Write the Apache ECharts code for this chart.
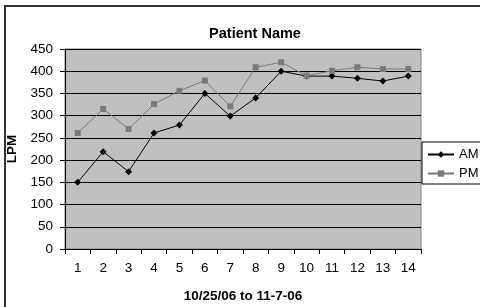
<!DOCTYPE html>
<html>
<head>
<meta charset="utf-8">
<script src="https://cdn.jsdelivr.net/npm/echarts@6/dist/echarts.min.js"></script>
<style>
  html, body { margin: 0; padding: 0; background: #fff; }
  #chart { width: 480px; height: 307px; }
</style>
</head>
<body>
<div id="chart"></div>
<script>
(function () {
    var days = ['1', '2', '3', '4', '5', '6', '7', '8', '9', '10', '11', '12', '13', '14'];
    var am = [150, 219, 174, 261, 279, 350, 299, 340, 400, 389, 389, 384, 378, 389];
    var pm = [261, 315, 270, 326, 356, 379, 321, 409, 420, 390, 401, 409, 405, 405];

    var font = 'Liberation Sans, Arial, sans-serif';

    var option = {
        animation: false,
        textStyle: { fontFamily: font },
        title: {
            text: 'Patient Name',
            left: 250,
            textAlign: 'center',
            top: 21,
            textStyle: { fontSize: 14.5, fontWeight: 'bold', color: '#000', fontFamily: font }
        },
        graphic: [{
            type: 'rect',
            shape: { x: 5, y: 6, width: 490, height: 320 },
            style: { fill: 'none', stroke: '#333', lineWidth: 2 },
            silent: true
        }],
        legend: {
            orient: 'vertical',
            left: 422,
            top: 142,
            padding: [6, 8, 4, 5],
            itemGap: 6,
            itemWidth: 26,
            itemHeight: 8,
            borderColor: '#000',
            borderWidth: 1,
            textStyle: { fontSize: 13, color: '#000', fontFamily: font },
            data: ['AM', 'PM']
        },
        grid: {
            left: 65,
            top: 49,
            right: 59,
            bottom: 58,
            outerBoundsMode: 'none',
            containLabel: false,
            show: true,
            backgroundColor: '#c0c0c0',
            borderColor: '#808080',
            borderWidth: 1
        },
        xAxis: {
            type: 'category',
            data: days,
            boundaryGap: true,
            name: '10/25/06 to 11-7-06',
            nameLocation: 'middle',
            nameGap: 40,
            nameTextStyle: { fontSize: 13.5, fontWeight: 'bold', color: '#000', fontFamily: font },
            axisLine: { lineStyle: { color: '#000', width: 1 } },
            axisTick: { show: true, length: 5, lineStyle: { color: '#000' } },
            axisLabel: { fontSize: 13.5, color: '#000', margin: 12, fontFamily: font },
            splitLine: { show: false }
        },
        yAxis: {
            type: 'value',
            min: 0,
            max: 450,
            interval: 50,
            name: 'LPM',
            nameLocation: 'middle',
            nameGap: 38,
            nameTextStyle: { fontSize: 13.5, fontWeight: 'bold', color: '#000', fontFamily: font },
            axisLine: { show: true, lineStyle: { color: '#000', width: 1 } },
            axisTick: { show: true, length: 5, lineStyle: { color: '#000' } },
            axisLabel: { fontSize: 13.5, color: '#000', margin: 12, fontFamily: font },
            splitLine: { show: true, lineStyle: { color: '#000', width: 1 } }
        },
        series: [{
            name: 'AM',
            type: 'line',
            data: am,
            symbol: 'diamond',
            symbolSize: 7,
            itemStyle: { color: '#000' },
            lineStyle: { color: '#000', width: 1 }
        }, {
            name: 'PM',
            type: 'line',
            data: pm,
            symbol: 'rect',
            symbolSize: 6,
            itemStyle: { color: '#7a7a7a' },
            lineStyle: { color: '#7a7a7a', width: 1 }
        }]
    };

    var chart = echarts.init(document.getElementById('chart'));
    chart.setOption(option);
})();
</script>
</body>
</html>
